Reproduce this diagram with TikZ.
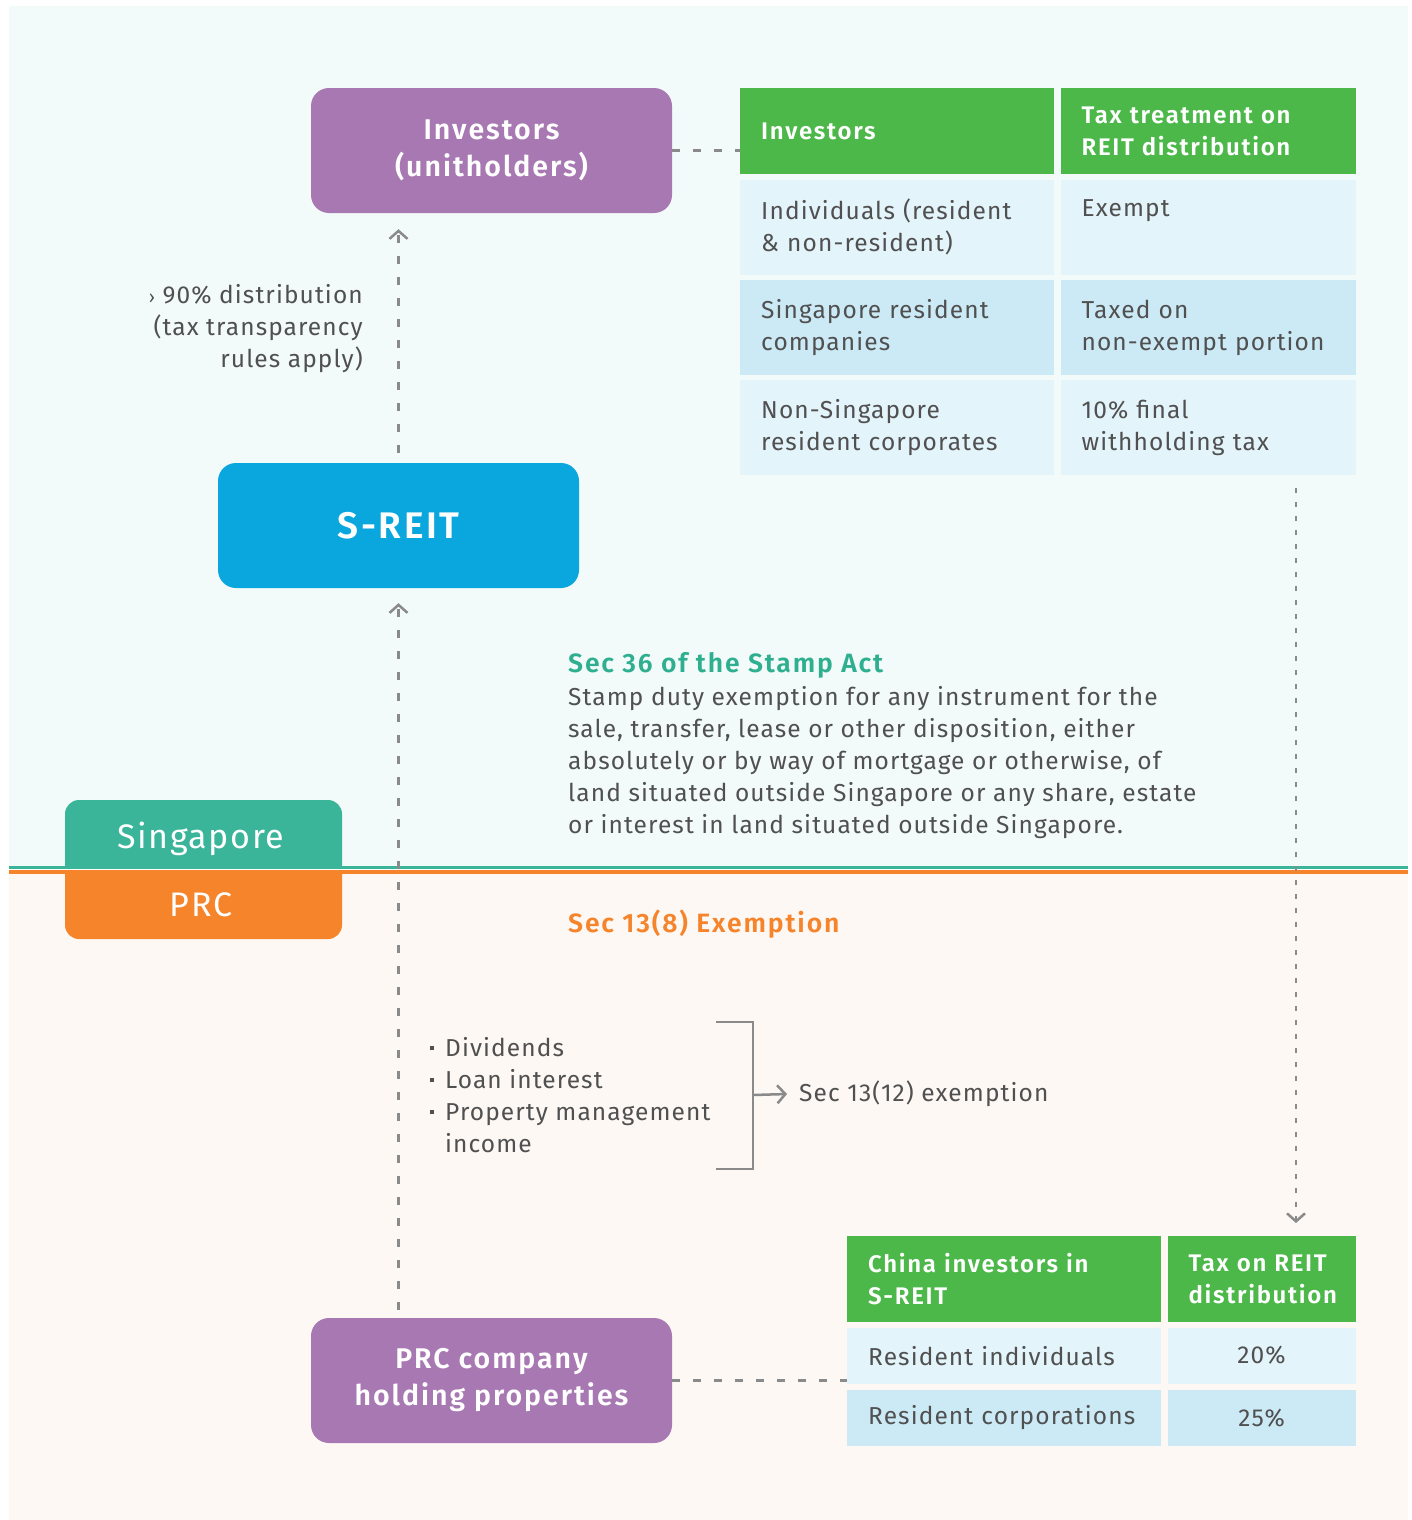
\documentclass[tikz,border=0pt]{standalone}
\usepackage{fontspec}
\setmainfont{Fira Sans}[LetterSpace=4.5, BoldFont={Fira Sans SemiBold}, BoldFeatures={LetterSpace=7}]
\usetikzlibrary{positioning, arrows.meta}
\definecolor{topbg}{RGB}{243,250,250}
\definecolor{botbg}{RGB}{253,248,244}
\definecolor{mauve}{RGB}{168,120,178}
\definecolor{reitblue}{RGB}{10,167,222}
\definecolor{sgteal}{RGB}{58,181,154}
\definecolor{prcorange}{RGB}{245,132,43}
\definecolor{tablegreen}{RGB}{77,184,74}
\definecolor{lightcell}{RGB}{227,244,250}
\definecolor{midcell}{RGB}{204,234,246}
\definecolor{bodygray}{RGB}{80,80,80}
\definecolor{linegray}{RGB}{138,138,138}
\definecolor{titleteal}{RGB}{46,175,143}
\newcommand{\sqbullet}{\raisebox{6pt}{\rule{4pt}{4pt}}\hspace{11pt}}

\begin{document}
\begin{tikzpicture}[
    x=1pt, y=-1pt,
    node distance=5pt and 6pt,
    box/.style={
        rectangle,
        rounded corners=18pt,
        minimum width=361pt,
        minimum height=125pt,
        inner sep=0pt,
        align=center,
        text=white,
        font=\fontsize{28.5}{37}\selectfont\bfseries
    },
    boxinv/.style={box, fill=mauve},
    boxreit/.style={box, fill=reitblue, font=\fontsize{37}{44}\selectfont\bfseries},
    tabtext/.style={text=white, inner sep=0pt, font=\fontsize{34}{40}\selectfont},
    headcell/.style={
        rectangle,
        fill=tablegreen,
        minimum height=86pt,
        inner xsep=21pt,
        inner ysep=0pt,
        align=left,
        text=white,
        font=\fontsize{24}{32}\selectfont\bfseries
    },
    cell/.style={
        rectangle,
        minimum height=95pt,
        inner xsep=21pt,
        inner ysep=0pt,
        align=left,
        text=bodygray,
        font=\fontsize{24.5}{32}\selectfont
    },
    bodytext/.style={inner sep=0pt, align=left, text=bodygray, font=\fontsize{24.5}{32}\selectfont},
    sectitle/.style={inner sep=0pt, font=\fontsize{26.5}{32}\selectfont\bfseries},
    flow/.style={
        draw=linegray,
        line width=2.5pt,
        dash pattern=on 8pt off 13pt,
        -{Straight Barb[length=8pt, width=18pt]}
    },
    flowdot/.style={flow, dash pattern=on 5pt off 9pt},
    link/.style={draw=linegray, line width=2.5pt, dash pattern=on 8pt off 13pt},
    bracket/.style={draw=linegray, line width=2.5pt}
]

% Background panels
\useasboundingbox (0,0) rectangle (1412,1520);
\fill[white] (0,0) rectangle (1412,1520);
\fill[topbg] (9,6) rectangle (1408,866);
\fill[botbg] (9,873) rectangle (1408,1520);

% Country tabs
\begin{scope}
    \clip (0,0) rectangle (1412,866);
    \fill[sgteal, rounded corners=14pt] (65,800) rectangle (342,900);
\end{scope}
\begin{scope}
    \clip (0,872) rectangle (1412,1520);
    \fill[prcorange, rounded corners=14pt] (65,840) rectangle (342,939);
\end{scope}
\draw[sgteal, line width=3pt] (9,867.5) -- (1408,867.5);
\draw[prcorange, line width=4pt] (9,871.5) -- (1408,871.5);
\node[tabtext] (sg) at (201,839) {Singapore};
\node[tabtext] (prctab) at (201,905) {PRC};

% Nodes
\node[boxinv] (inv) at (491.5,150.5) {Investors\\(unitholders)};
\node[boxreit] (sreit) at (398.5,525.5) {S-REIT};
\node[boxinv] (prc) at (491.5,1380.5) {PRC company\\holding properties};

% Singapore investors table
\node[headcell, anchor=north west, text width=272pt] (h11) at (740,88) {Investors};
\node[headcell, right=of h11, text width=253pt] (h12) {Tax treatment on\\REIT distribution};
\node[cell, fill=lightcell, below=of h11, text width=272pt] (c11) {Individuals (resident\\\& non-resident)};
\node[cell, fill=lightcell, below=of h12, text width=253pt] (c12) {};
\node[bodytext, anchor=west] (t12) at ([xshift=21pt, yshift=16pt]c12.west) {Exempt};
\node[cell, fill=midcell, below=of c11, text width=272pt] (c21) {Singapore resident\\companies};
\node[cell, fill=midcell, below=of c12, text width=253pt] (c22) {Taxed on\\non-exempt portion};
\node[cell, fill=lightcell, below=of c21, text width=272pt] (c31) {Non-Singapore\\resident corporates};
\node[cell, fill=lightcell, below=of c22, text width=253pt] (c32) {10\% final\\withholding tax};

% China investors table
\node[headcell, anchor=north west, text width=272pt] (g11) at (847,1236) {China investors in\\S-REIT};
\node[headcell, right=of g11, text width=146pt] (g12) {Tax on REIT\\distribution};
\node[cell, fill=lightcell, below=of g11, minimum height=56pt, text width=272pt] (d11) {Resident individuals};
\node[cell, fill=lightcell, below=of g12, minimum height=56pt, text width=146pt, align=center] (d12) {20\%};
\node[cell, fill=midcell, below=6pt of d11, minimum height=56pt, text width=272pt] (d21) {Resident corporations};
\node[cell, fill=midcell, below=6pt of d12, minimum height=56pt, text width=146pt, align=center] (d22) {25\%};

% Texts
\node[bodytext, anchor=east, align=right] (dist) at (363,329) {{\fontsize{18}{32}\selectfont›} 90\% distribution\\(tax transparency\\rules apply)};
\node[sectitle, anchor=west, text=titleteal] (sec36) at (568,665) {Sec 36 of the Stamp Act};
\node[bodytext, anchor=west] (stamp) at (568,763) {Stamp duty exemption for any instrument for the\\sale, transfer, lease or other disposition, either\\absolutely or by way of mortgage or otherwise, of\\land situated outside Singapore or any share, estate\\or interest in land situated outside Singapore.};
\node[sectitle, anchor=west, text=prcorange] (sec138) at (568,924) {Sec 13(8) Exemption};
\node[bodytext, anchor=west] (income) at (430,1095) {\sqbullet Dividends\\\sqbullet Loan interest\\\sqbullet Property management\\\hspace{15pt}income};
\node[bodytext, anchor=west] (sec1312) at (799,1094) {Sec 13(12) exemption};

% Connectors
\coordinate (brk) at (753,1095);
\coordinate (cnflow) at (1296,472);
\draw[bracket] (716,1022) -| (753,1169) -- (716,1169);
\draw[bracket, -{Straight Barb[length=8pt, width=18pt]}] (brk) -- ([xshift=-12pt]sec1312.west);
\draw[flow, shorten <=8pt, shorten >=15pt] (sreit.south |- prc.north) -- (sreit.south);
\draw[flow, shorten <=10pt, shorten >=16pt] (sreit.north) -- (sreit.north |- inv.south);
\draw[flowdot, shorten <=16pt, shorten >=13pt] (cnflow) -- (cnflow |- g12.north);
\draw[link] (inv.east) -- (inv.east -| h11.west);
\draw[link] (prc.east) -- (prc.east -| d11.west);

\end{tikzpicture}
\end{document}
